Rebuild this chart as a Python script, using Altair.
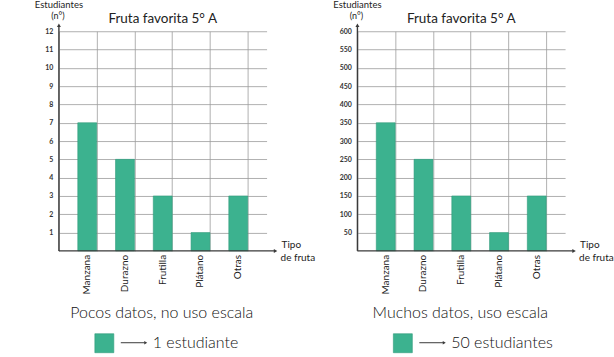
import altair as alt
import pandas as pd

frutas = ["Manzana", "Durazno", "Frutilla", "Plátano", "Otras"]
valores_a = [7, 5, 3, 1, 3]
valores_b = [350, 250, 150, 50, 150]
ticks_a = list(range(1, 13))
ticks_b = list(range(50, 601, 50))
titulo = "Fruta favorita 5° A"
caption_a = "Pocos datos, no uso escala"
caption_b = "Muchos datos, uso escala"
leyenda_a = "1 estudiante"
leyenda_b = "50 estudiantes"

BAR = "#3cb28f"
AX = "#3a3a3a"
W, H = 208, 220
FONT = "Lato"
HAND = "Lato"


def one():
    return alt.Data(values=[{"a": 1}])


def panel(values, ticks, caption, leyenda):
    df = pd.DataFrame({
        "fruta": frutas,
        "valor": values,
        "pos": [2 * i + 1 for i in range(len(frutas))],
        "pos2": [2 * i + 2 for i in range(len(frutas))],
        "mid": [2 * i + 1.5 for i in range(len(frutas))],
    })
    ymax = ticks[-1]
    xs = alt.Scale(domain=[0, 11], nice=False, zero=False)
    ys = alt.Scale(domain=[0, ymax], nice=False)
    bars = alt.Chart(df).mark_bar(color=BAR, stroke="#2f9a7a", strokeWidth=0.6).encode(
        x=alt.X("pos:Q", scale=xs,
                axis=alt.Axis(values=list(range(0, 12)), grid=True, labels=False, ticks=False,
                              domain=False, title=None, gridColor="#9c9c9c", gridWidth=0.8)),
        x2="pos2:Q",
        y=alt.Y("valor:Q", scale=ys,
                axis=alt.Axis(values=ticks, grid=True, ticks=False, domain=False, title=None,
                              labelFont=FONT, labelFontSize=7, labelFontWeight="bold",
                              labelColor="#333", labelPadding=6,
                              gridColor="#9c9c9c", gridWidth=0.8)),
        y2=alt.datum(0),
    )
    labels = alt.Chart(df).mark_text(angle=270, align="right", baseline="middle",
                                     font=FONT, fontSize=10, color="#222").encode(
        x=alt.X("mid:Q", scale=xs), y=alt.value(H + 4), text="fruta:N")
    yaxis = alt.Chart(one()).mark_rule(color=AX, strokeWidth=1.4).encode(
        x=alt.value(0), y=alt.value(-5), y2=alt.value(H))
    xaxis = alt.Chart(one()).mark_rule(color=AX, strokeWidth=1.4).encode(
        x=alt.value(0), x2=alt.value(216), y=alt.value(H))
    yarrow = alt.Chart(one()).mark_point(shape="triangle-up", filled=True, size=16,
                                         color=AX, opacity=1).encode(
        x=alt.value(0), y=alt.value(-6))
    xarrow = alt.Chart(one()).mark_point(shape="triangle-right", filled=True, size=16,
                                         color=AX, opacity=1).encode(
        x=alt.value(217), y=alt.value(H))

    def txt(s, x, y, size, align="center", font=FONT, color="#222", weight="normal"):
        return alt.Chart(one()).mark_text(align=align, baseline="middle", font=font,
                                          fontSize=size, color=color, fontWeight=weight).encode(
            x=alt.value(x), y=alt.value(y), text=alt.value(s))

    texts = [
        txt("Estudiantes", 0, -26, 9.5),
        txt("(n°)", -1, -15, 9),
        txt(titulo, 104, -12, 13.5),
        txt("Tipo", 223, H - 6, 10, align="left"),
        txt("de fruta", 222, H + 7, 10, align="left"),
        txt(caption, 103, 282, 16, font=HAND, color="#111", weight=300),
        txt(leyenda, 94, 312, 16, align="left", font=HAND, color="#111", weight=300),
    ]
    square = alt.Chart(one()).mark_rect(color=BAR, stroke="#2f9a7a", strokeWidth=0.6).encode(
        x=alt.value(36), x2=alt.value(55), y=alt.value(303), y2=alt.value(322))
    arrow = alt.Chart(one()).mark_rule(color=AX, strokeWidth=1).encode(
        x=alt.value(62), x2=alt.value(86), y=alt.value(312))
    arrowh = alt.Chart(one()).mark_point(shape="triangle-right", filled=True, size=12,
                                         color=AX, opacity=1).encode(
        x=alt.value(87), y=alt.value(312))
    anchor = alt.Chart(one()).mark_rule(strokeOpacity=0, color="white").encode(
        x=alt.value(-59), x2=alt.value(-58), y=alt.value(-31), y2=alt.value(-30))
    return alt.layer(bars, labels, yaxis, xaxis, yarrow, xarrow, square, arrow, arrowh,
                     anchor, *texts).properties(width=W, height=H)


chart = alt.hconcat(
    panel(valores_a, ticks_a, caption_a, leyenda_a),
    panel(valores_b, ticks_b, caption_b, leyenda_b),
    spacing=91, bounds="flush",
).properties(padding=0, background="white").configure_view(stroke=None)

chart.save("out.html", embed_options={"renderer": "svg", "actions": False})
